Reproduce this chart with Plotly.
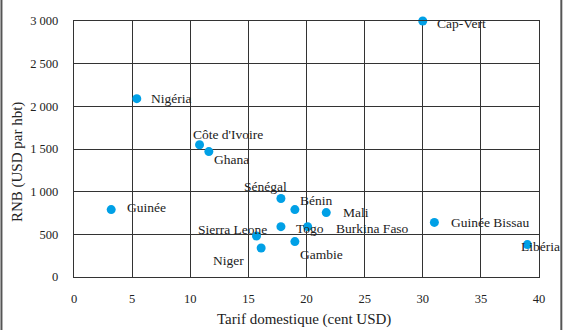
import plotly.graph_objects as go

countries = ["Cap-Vert", "Nigéria", "Côte d'Ivoire", "Ghana", "Guinée", "Sénégal",
             "Bénin", "Mali", "Togo", "Burkina Faso", "Sierra Leone", "Niger",
             "Gambie", "Guinée Bissau", "Libéria"]
tarif = [30.0, 5.4, 10.8, 11.6, 3.2, 17.8, 19.0, 21.7, 17.8, 20.1, 15.7, 16.1, 19.0, 31.0, 39.0]
rnb = [3000, 2090, 1550, 1470, 790, 920, 790, 755, 590, 590, 480, 340, 415, 640, 380]

x_title = "Tarif domestique (cent USD)"
y_title = "RNB (USD par hbt)"

# label placement (style): anchor, x shift, y shift
anchors = ["left", "left", "left", "left", "left", "right", "left", "left", "left",
           "left", "right", "right", "left", "left", "left"]
xshifts = [12, 12, -9, 3, 14, 8, 3, 15, 13, 26, 12, -15, 3, 15, -8]
yshifts = [-2, 0, 10, -8, 2, 12, 9, 0, -2, -2, 7, -13, -13, 0, -2]

font_family = "Liberation Serif, Times New Roman, serif"
grid_col = "#333333"

fig = go.Figure()
fig.add_trace(go.Scatter(
    x=tarif, y=rnb, mode="markers",
    marker=dict(size=9, color="#00a0e6"),
    cliponaxis=False, showlegend=False,
))

for name, x, y, a, dx, dy in zip(countries, tarif, rnb, anchors, xshifts, yshifts):
    fig.add_annotation(x=x, y=y, text=name, showarrow=False, xanchor=a, yanchor="middle",
                       xshift=dx, yshift=dy, font=dict(family=font_family, size=13.5, color="#222"))

# axis titles
fig.add_annotation(xref="paper", yref="paper", x=0.495, y=-0.166, text=x_title, showarrow=False,
                   xanchor="center", yanchor="middle", font=dict(family=font_family, size=15, color="#222"))
fig.add_annotation(xref="paper", yref="paper", x=-0.1226, y=0.449, text=y_title, showarrow=False,
                   textangle=-90, xanchor="center", yanchor="middle",
                   font=dict(family=font_family, size=15, color="#222"))

# outer frame lines (left and right)
for px in (-0.156, 1.048):
    fig.add_shape(type="line", xref="paper", yref="paper", x0=px, x1=px, y0=-0.3, y1=1.2,
                  line=dict(color="#555", width=2))

fig.update_layout(
    width=567, height=330,
    margin=dict(l=74, r=28, t=21, b=53),
    paper_bgcolor="white", plot_bgcolor="white",
    font=dict(family=font_family, size=12.5, color="#222"),
    xaxis=dict(range=[0, 40], dtick=5, showgrid=True, gridcolor=grid_col, gridwidth=1.4,
               showline=True, linecolor=grid_col, linewidth=1.4, mirror=True, zeroline=False,
               ticklabelstandoff=10),
    yaxis=dict(range=[0, 3000], dtick=500, showgrid=True, gridcolor=grid_col, gridwidth=1.4,
               showline=True, linecolor=grid_col, linewidth=1.4, mirror=True, zeroline=False,
               tickformat=",d", ticklabelstandoff=12),
    separators=", ",
)

fig.write_html("out.html")
